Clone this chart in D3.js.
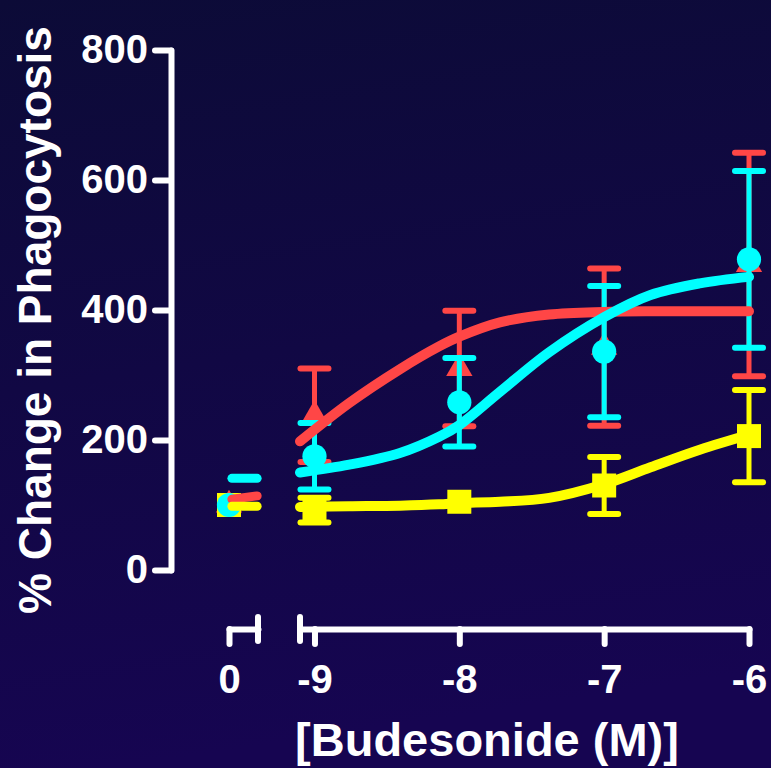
<!DOCTYPE html>
<html>
<head>
<meta charset="utf-8">
<script src="https://cdn.jsdelivr.net/npm/d3@7"></script>
<style>
  html, body { margin: 0; padding: 0; background: #100840; }
  svg { display: block; }
  text { font-family: "Liberation Sans", Arial, sans-serif; font-weight: bold; fill: #ffffff; }
</style>
</head>
<body>
<svg id="chart" width="771" height="768"></svg>
<script>
// ---- data ----
const yTicks = [0, 200, 400, 600, 800];
const doseTicks = [-9, -8, -7, -6];
const controlTickLabel = ["0"];

// log10 [Budesonide] (M) for the measured points
const doses = [-9, -8, -7, -6];

// mean % change and error per dose
const redMean = [238, 310, 343, 470];
const redErr = [72, 89, 121, 172];
const cyanMean = [175, 258, 336, 478];
const cyanErr = [51, 68, 101, 136];
const yellowMean = [92, 105, 130, 206];
const yellowErr = [19, 6, 44, 71];

// control (no drug) values
const redControl = 100;
const cyanControl = 100;
const yellowControl = 100;

// fitted dose-response curves
const fitDoses = [-9.1, -8.76, -8.41, -8.14, -8.0, -7.72, -7.38, -7.0, -6.68, -6.34, -6.0];
const redFit = [198, 257, 309, 344, 359, 381, 393, 397, 398, 398, 398];
const cyanFit = [150, 162, 180, 205, 223, 274, 335, 389, 423, 441, 451];
const yellowFit = [97, 98, 99, 101, 103, 105, 111, 132, 158, 185, 208];

// fit baselines drawn across the control segment
const redControlFit = [109, 114];
const cyanControlFit = [141, 141];
const yellowControlFit = [98, 98];

// ---- drawing ----
const svg = d3.select("#chart");
const W = 771, H = 768;

const defs = svg.append("defs");
const grad = defs.append("linearGradient").attr("id", "bg")
  .attr("x1", 0).attr("y1", 0).attr("x2", 0.15).attr("y2", 1);
grad.append("stop").attr("offset", "0%").attr("stop-color", "#0c0b37");
grad.append("stop").attr("offset", "100%").attr("stop-color", "#160551");
svg.append("rect").attr("width", W).attr("height", H).attr("fill", "url(#bg)");

const y = d3.scaleLinear().domain([0, 800]).range([570, 50]);
const x = d3.scaleLinear().domain([-9.1, -6]).range([300, 749]);
const xc = d3.scaleLinear().domain([0, 1]).range([229, 258]); // control segment

const colors = { red: "#ff4646", cyan: "#00ffff", yellow: "#ffff00" };
const axisW = 6;

// y axis
const gy = svg.append("g").attr("transform", "translate(171,0)")
  .call(d3.axisLeft(y).tickValues(yTicks).tickSize(16).tickSizeOuter(0).tickPadding(7));
gy.selectAll("path, line").attr("stroke", "#fff").attr("stroke-width", axisW)
  .attr("stroke-linecap", "round").attr("stroke-linejoin", "round");
gy.selectAll("text").attr("font-size", 40).attr("fill", "#fff")
  .style("font-family", "'Liberation Sans', Arial, sans-serif").style("font-weight", "bold");

// x axis: control segment
const axisY = 629;
const gx0 = svg.append("g").attr("transform", `translate(0,${axisY})`)
  .call(d3.axisBottom(xc).tickValues([0]).tickFormat((d, i) => controlTickLabel[i])
    .tickSize(15).tickSizeOuter(0).tickPadding(21));
// x axis: dose segment
const gx1 = svg.append("g").attr("transform", `translate(0,${axisY})`)
  .call(d3.axisBottom(x).tickValues(doseTicks).tickFormat(d3.format("d"))
    .tickSize(15).tickSizeOuter(0).tickPadding(21));
[gx0, gx1].forEach(g => {
  g.selectAll("path, line").attr("stroke", "#fff").attr("stroke-width", axisW)
    .attr("stroke-linecap", "round").attr("stroke-linejoin", "round");
  g.selectAll("text").attr("font-size", 40).attr("fill", "#fff")
    .style("font-family", "'Liberation Sans', Arial, sans-serif").style("font-weight", "bold")
    .text(function () { return this.textContent.replace("−", "-"); });
});
// axis break marks
[xc.range()[1], x.range()[0]].forEach(bx => {
  svg.append("line").attr("x1", bx).attr("x2", bx)
    .attr("y1", axisY - 12).attr("y2", axisY + 12)
    .attr("stroke", "#fff").attr("stroke-width", axisW).attr("stroke-linecap", "round");
});

// axis titles
svg.append("text").attr("transform", "translate(51,320) rotate(-90)")
  .attr("text-anchor", "middle").attr("font-size", 46)
  .text("% Change in Phagocytosis");
svg.append("text").attr("x", 487).attr("y", 756)
  .attr("text-anchor", "middle").attr("font-size", 47)
  .text("[Budesonide (M)]");

// markers and error bars
const capHalf = 14;
function errorBars(g, xs, means, errs, color) {
  xs.forEach((xv, i) => {
    const cx = xv, hi = y(means[i] + errs[i]), lo = y(means[i] - errs[i]);
    if (y(means[i]) - hi <= 11) return; // hidden behind the symbol
    g.append("line").attr("x1", cx).attr("x2", cx).attr("y1", hi).attr("y2", lo)
      .attr("stroke", color).attr("stroke-width", 5);
    [hi, lo].forEach(cy => g.append("line")
      .attr("x1", cx - capHalf).attr("x2", cx + capHalf).attr("y1", cy).attr("y2", cy)
      .attr("stroke", color).attr("stroke-width", 6).attr("stroke-linecap", "round"));
  });
}
function symbols(g, xs, means, shape, color) {
  const s = shape === "triangle" ? d3.symbolTriangle : shape === "square" ? d3.symbolSquare : d3.symbolCircle;
  const size = shape === "triangle" ? 300 : shape === "square" ? 576 : 460;
  g.selectAll(null).data(xs).join("path")
    .attr("d", d3.symbol(s, size))
    .attr("transform", (d, i) => `translate(${d},${y(means[i])})`)
    .attr("fill", color);
}

const gm = svg.append("g");
const doseX = doses.map(d => x(d));
const ctrlX = [xc(0)];

// red (triangles)
symbols(gm, ctrlX, [redControl], "triangle", colors.red);
errorBars(gm, doseX, redMean, redErr, colors.red);
symbols(gm, doseX, redMean, "triangle", colors.red);
// yellow (squares)
symbols(gm, ctrlX, [yellowControl], "square", colors.yellow);
errorBars(gm, doseX, yellowMean, yellowErr, colors.yellow);
symbols(gm, doseX, yellowMean, "square", colors.yellow);
// cyan (circles)
symbols(gm, ctrlX, [cyanControl], "circle", colors.cyan);
errorBars(gm, doseX, cyanMean, cyanErr, colors.cyan);
symbols(gm, doseX, cyanMean, "circle", colors.cyan);

// fitted curves
const line = d3.line().x(d => x(d[0])).y(d => y(d[1])).curve(d3.curveCatmullRom.alpha(0.5));
const ctrlLine = d3.line().x(d => xc(d[0])).y(d => y(d[1]));
const ctrlPos = [0.1, 0.97];
[[redFit, redControlFit, colors.red],
 [cyanFit, cyanControlFit, colors.cyan],
 [yellowFit, yellowControlFit, colors.yellow]].forEach(([fit, ctrl, color]) => {
  svg.append("path").attr("d", line(fitDoses.map((d, i) => [d, fit[i]])))
    .attr("fill", "none").attr("stroke", color).attr("stroke-width", 10)
    .attr("stroke-linecap", "round");
  svg.append("path").attr("d", ctrlLine(ctrlPos.map((p, i) => [p, ctrl[i]])))
    .attr("fill", "none").attr("stroke", color).attr("stroke-width", 9)
    .attr("stroke-linecap", "round");
});
</script>
</body>
</html>
